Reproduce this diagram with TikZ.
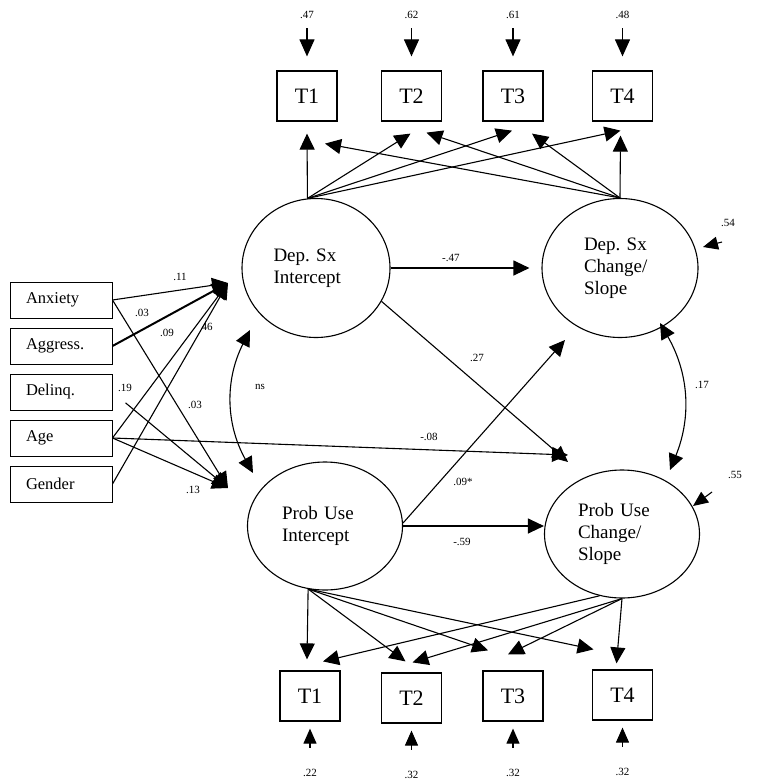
\documentclass[tikz,border=0pt]{standalone}
\usepackage{fontspec}
\setmainfont{Liberation Serif}
\usetikzlibrary{shapes.geometric,
                calc, %for offsets from nodes
                arrows.meta, % for triangle tips
                positioning}

\begin{document}
\begin{tikzpicture}[x=1pt, y=-1pt,
                    obs/.style={draw, line width=1.2pt, minimum width=60pt, minimum height=50pt, inner sep=0pt, font=\fontsize{22}{24}\selectfont},
                    cov/.style={draw, line width=1pt, minimum width=102pt, minimum height=36pt, text width=70pt, inner xsep=16pt, inner ysep=0pt, font=\fontsize{16.5}{18}\selectfont},
                    lat/.style={draw, ellipse, line width=1.1pt, align=left, inner sep=0pt, font=\fontsize{19}{22}\selectfont\frenchspacing},
                    coef/.style={inner sep=0pt, font=\fontsize{11}{13}\selectfont},
                    path/.style={-{Triangle[length=16pt,width=15pt]}, line width=1.1pt},
                    err/.style={-{Triangle[length=17pt,width=15pt]}, line width=1.1pt},
                    errsmall/.style={-{Triangle[length=15pt,width=13pt]}, line width=1.1pt},
                    corr/.style={{Triangle[length=16pt,width=15pt]}-{Triangle[length=16pt,width=15pt]}, line width=1.1pt}
                    ]
    \useasboundingbox (0,0) rectangle (758,784);

    %latent growth factors
    \node[lat, text width=85pt, minimum width=148pt, minimum height=139pt] at (316,268) (DepI) {Dep.\ Sx\\Intercept};
    \node[lat, text width=72pt, minimum width=156pt, minimum height=139pt] at (620,268) (DepC) {Dep.\ Sx\\Change/\\Slope};
    \node[lat, text width=86pt, minimum width=155pt, minimum height=128pt] at (325,526) (ProbI) {Prob Use\\Intercept};
    \node[lat, text width=88pt, minimum width=155pt, minimum height=128pt] at (622,534) (ProbC) {Prob Use\\Change/\\Slope};

    %indicators
    \node[obs] at (307,96)   (T1t) {T1};
    \node[obs] at (411.5,96) (T2t) {T2};
    \node[obs] at (513,96)   (T3t) {T3};
    \node[obs] at (622.5,96) (T4t) {T4};
    \node[obs] at (310,696)  (T1b) {T1};
    \node[obs] at (411.5,698) (T2b) {T2};
    \node[obs] at (513,696)  (T3b) {T3};
    \node[obs] at (622.5,695) (T4b) {T4};

    %covariates
    \node[cov] at (61,300) (Anx) {Anxiety};
    \node[cov, below=9pt of Anx]    (Aggr) {Aggress.};
    \node[cov, below=9pt of Aggr]   (Delinq) {Delinq.};
    \node[cov, below=9pt of Delinq] (Age) {Age};
    \node[cov, below=9pt of Age]    (Gender) {Gender};

    %residual labels
    \node[coef, above=52pt of T1t] (e1t) {.47};
    \node[coef, above=52pt of T2t] (e2t) {.62};
    \node[coef, above=52pt of T3t] (e3t) {.61};
    \node[coef, above=52pt of T4t] (e4t) {.48};
    \node[coef, below=47pt of T1b] (e1b) {.22};
    \node[coef, below=47pt of T2b] (e2b) {.32};
    \node[coef, below=47pt of T3b] (e3b) {.32};
    \node[coef, below=47pt of T4b] (e4b) {.32};

    \foreach \t in {1,2,3,4}{
        \draw[err, shorten <=10pt, shorten >=14pt] (e\t t) -- (T\t t);
        \draw[errsmall, shorten <=21pt, shorten >=7pt] (e\t b) -- (T\t b);
    }

    %loadings, top
    \draw[path] (DepI.97) -- ($(T1t.south)+(0,12)$);
    \draw[path] (DepI.97) -- ($(T2t.south)+(-1,12)$);
    \draw[path] (DepI.97) -- ($(T3t.south)+(-1,9)$);
    \draw[path] (DepI.97) -- ($(T4t.south)+(-2,9)$);
    \draw[path] (DepC.north) -- ($(T1t.south)+(18,22)$);
    \draw[path] (DepC.north) -- ($(T2t.south)+(15,11)$);
    \draw[path] (DepC.north) -- ($(T3t.south)+(19,12)$);
    \draw[path] (DepC.north) -- ($(T4t.south)+(-2,14)$);

    %loadings, bottom
    \draw[path] (ProbI.255) -- ($(T1b.north)+(-3,-11)$);
    \draw[path] (ProbI.255) -- ($(T2b.north)+(-6,-11)$);
    \draw[path] (ProbI.255) -- ($(T3b.north)+(-25,-20)$);
    \draw[path] (ProbI.255) -- ($(T4b.north)+(-29,-20)$);
    \draw[path] (ProbC.250) -- ($(T1b.north)+(13,-9)$);
    \draw[path] (ProbC.south) -- ($(T2b.north)+(1,-10)$);
    \draw[path] (ProbC.south) -- ($(T3b.north)+(-5,-16)$);
    \draw[path] (ProbC.south) -- ($(T4b.north)+(-6,-6)$);

    %structural paths
    \draw[path, shorten >=12pt] (DepI.east) -- (DepC.west) node[coef, pos=0.4, above=6pt] (p47) {-.47};
    \draw[path] (ProbI.east) -- (ProbI.east -| ProbC.west);
    \node[coef] at (462,542) (p59) {-.59};
    \draw[path] (DepI.333) -- ($(ProbC)+(-54,-72)$);
    \node[coef] at (477,358) (p27) {.27};
    \draw[path] ($(ProbI.east)+(0,-3)$) -- ($(DepC)+(-55,72)$);
    \node[coef] at (463,482) (p09s) {.09*};

    %correlations
    \draw[corr] ($(DepI)+(-66,62)$) to[bend right=28] ($(ProbI)+(-72,-53)$);
    \node[coef] at (260,387) (pns) {ns};
    \draw[corr] ($(DepC)+(40,55)$) to[bend left=26] ($(ProbC)+(48,-64)$);
    \node[coef] at (702,385) (p17) {.17};

    %disturbances
    \draw[errsmall] ($(DepC)+(102,-26)$) -- ($(DepC)+(83,-21)$);
    \node[coef] at (728,223) (d54) {.54};
    \draw[errsmall] ($(ProbC)+(90,-42)$) -- ($(ProbC)+(71,-28)$);
    \node[coef] at (735,475) (d55) {.55};

    %covariate effects
    \coordinate (DepIin) at ($(DepI)+(-88,15)$);
    \coordinate (ProbIin) at ($(ProbI)+(-97,-38)$);
    \draw[path] (Anx.east) -- (DepIin);
    \draw[path, line width=2pt] (Aggr.east) -- (DepIin);
    \draw[path] (Age.east) -- (DepIin);
    \draw[path] (Gender.east) -- (DepIin);
    \draw[path] (Anx.east) -- (ProbIin);
    \draw[path, shorten <=17pt] (Delinq.east) -- (ProbIin);
    \draw[path] (Age.east) -- (ProbIin);
    \draw[path] (Age.east) -- ($(ProbC)+(-54,-79)$);
    \node[coef] at (180,277) (b11) {.11};
    \node[coef] at (142,313) (b03a) {.03};
    \node[coef] at (167,333) (b09) {.09};
    \node[coef] at (207,327) (b46) {46};
    \node[coef] at (125,388) (b19) {.19};
    \node[coef] at (195,405) (b03b) {.03};
    \node[coef] at (193,490) (b13) {.13};
    \node[coef] at (429,437) (b08) {-.08};

\end{tikzpicture}
\end{document}
